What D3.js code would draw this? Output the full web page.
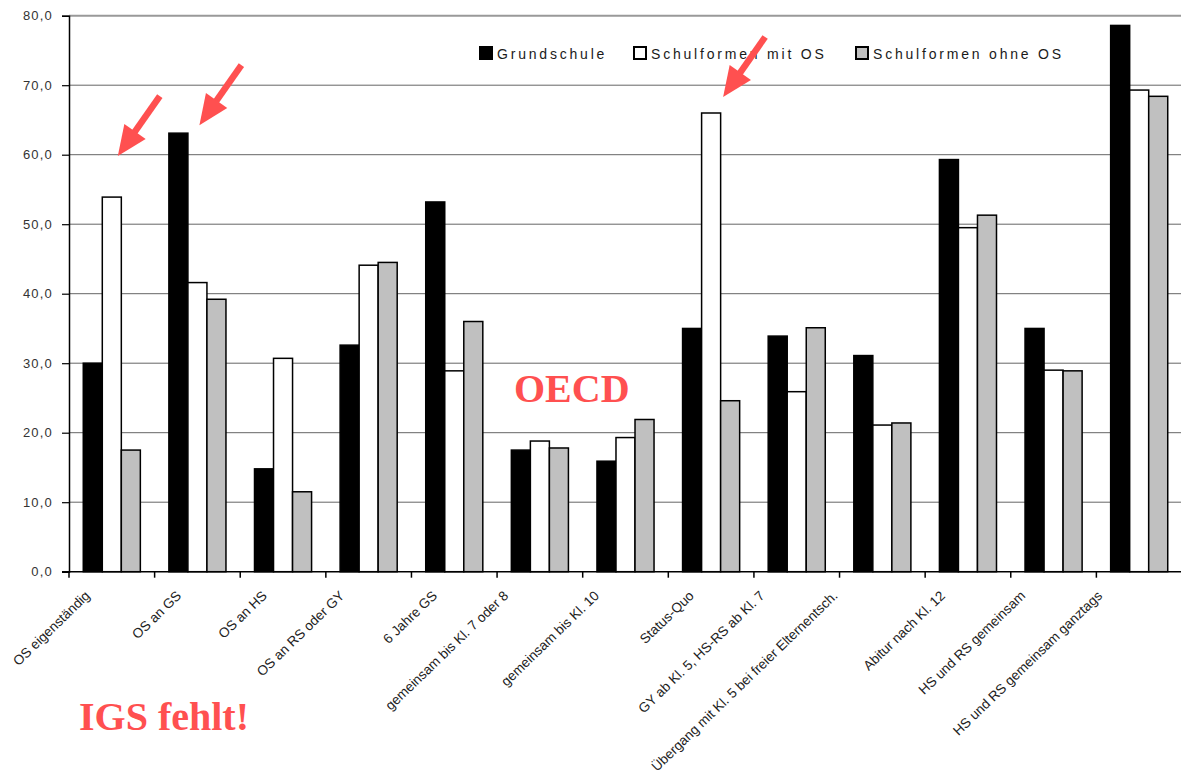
<!DOCTYPE html>
<html>
<head>
<meta charset="utf-8">
<script src="https://cdn.jsdelivr.net/npm/d3@7"></script>
<style>
  body { margin: 0; background: #fff; }
</style>
</head>
<body>
<div class="chart"></div>
<script>
const WIDTH = 1181;
const HEIGHT = 776;
const LEFT = 69;
const RIGHT = 1182;
const TOP = 15.7;
const BOTTOM = 571.7;

const categories = [
  'OS eigenständig',
  'OS an GS',
  'OS an HS',
  'OS an RS oder GY',
  '6 Jahre GS',
  'gemeinsam bis Kl. 7 oder 8',
  'gemeinsam bis Kl. 10',
  'Status-Quo',
  'GY ab Kl. 5, HS-RS ab Kl. 7',
  'Übergang mit Kl. 5 bei freier Elternentsch.',
  'Abitur nach Kl. 12',
  'HS und RS gemeinsam',
  'HS und RS gemeinsam ganztags',
];
const seriesNames = ['Grundschule', 'Schulformen mit OS', 'Schulformen ohne OS'];
const grundschule = [30.0, 63.1, 14.8, 32.6, 53.2, 17.5, 15.9, 35.0, 33.9, 31.1, 59.3, 35.0, 78.6];
const mitOS = [53.9, 41.6, 30.7, 44.1, 28.9, 18.8, 19.3, 66.0, 25.9, 21.1, 49.5, 29.0, 69.3];
const ohneOS = [17.5, 39.2, 11.5, 44.5, 36.0, 17.8, 21.9, 24.6, 35.1, 21.4, 51.3, 28.9, 68.4];
const yTicks = [0, 10, 20, 30, 40, 50, 60, 70, 80];

// arrows point at a bar: category index, series index
const arrows = [
  { cat: 0, series: 1, dx: 6, dy: -41 },
  { cat: 1, series: 0, dx: 21, dy: -8 },
  { cat: 7, series: 1, dx: 12, dy: -16 },
];

const FILLS = ['#000000', '#ffffff', '#c0c0c0'];
const RED = '#ff5050';
const values = [grundschule, mitOS, ohneOS];

const svg = d3.select('.chart')
  .append('svg')
  .attr('width', WIDTH)
  .attr('height', HEIGHT)
  .style('display', 'block');

const x0 = d3.scaleBand().domain(categories).range([LEFT, RIGHT]);
const x1 = d3.scaleBand().domain(seriesNames).range([0, x0.bandwidth()])
  .paddingInner(0)
  .paddingOuter(0.75);
const y = d3.scaleLinear().domain([0, 80]).range([BOTTOM, TOP]);

// gridlines
svg.append('g')
  .selectAll('line')
  .data(yTicks.filter((d) => d > 0))
  .join('line')
  .attr('x1', LEFT)
  .attr('x2', WIDTH)
  .attr('y1', (d) => y(d))
  .attr('y2', (d) => y(d))
  .attr('stroke', (d) => (d === 80 ? '#999' : '#666'))
  .attr('stroke-width', (d) => (d === 80 ? 2 : 1));

// bars
const groups = svg.append('g')
  .selectAll('g')
  .data(categories)
  .join('g')
  .attr('transform', (d) => `translate(${x0(d)},0)`);

groups.selectAll('rect')
  .data((d, i) => seriesNames.map((s, j) => ({ s, j, v: values[j][i] })))
  .join('rect')
  .attr('x', (d) => x1(d.s))
  .attr('y', (d) => y(d.v))
  .attr('width', x1.bandwidth())
  .attr('height', (d) => y(0) - y(d.v))
  .attr('fill', (d) => FILLS[d.j])
  .attr('stroke', '#000')
  .attr('stroke-width', 1.5);

// y axis
const yAxis = svg.append('g')
  .attr('transform', `translate(${LEFT},0)`)
  .call(d3.axisLeft(y)
    .tickValues(yTicks)
    .tickSize(7)
    .tickPadding(9)
    .tickFormat((d) => d.toFixed(1).replace('.', ',')));
yAxis.select('.domain').attr('stroke', '#000').attr('stroke-width', 1.5);
yAxis.selectAll('.tick line').attr('stroke', '#000').attr('stroke-width', 1.2);
yAxis.selectAll('text')
  .attr('fill', '#333')
  .style('font-family', 'Liberation Sans, Arial, sans-serif')
  .style('font-size', '13px')
  .style('letter-spacing', '1.2px');

// x axis, ticks between categories
const xAxis = svg.append('g')
  .attr('transform', `translate(0,${BOTTOM})`);
xAxis.append('line')
  .attr('x1', LEFT - 7)
  .attr('x2', WIDTH)
  .attr('stroke', '#000')
  .attr('stroke-width', 1.5);
xAxis.selectAll('.xtick')
  .data(categories)
  .join('line')
  .attr('class', 'xtick')
  .attr('x1', (d) => x0(d))
  .attr('x2', (d) => x0(d))
  .attr('y1', 0)
  .attr('y2', 6)
  .attr('stroke', '#000')
  .attr('stroke-width', 1.5);

// rotated labels; longer ones sit further left, like the original
const labels = xAxis.selectAll('.xlabel')
  .data(categories)
  .join('text')
  .attr('class', 'xlabel')
  .attr('text-anchor', 'end')
  .attr('fill', '#222')
  .style('font-family', 'Liberation Sans, Arial, sans-serif')
  .style('font-size', '13.6px')
  .text((d) => d);
labels.attr('transform', function (d) {
  const len = this.getComputedTextLength();
  return `translate(${x0(d) + x0.bandwidth() / 2 - 6 - 0.15 * len},25) rotate(-44)`;
});

// legend
const legendX = [480, 634, 856];
const legend = svg.append('g')
  .selectAll('g')
  .data(seriesNames)
  .join('g')
  .attr('transform', (d, i) => `translate(${legendX[i]},47)`);
legend.append('rect')
  .attr('width', 12)
  .attr('height', 12)
  .attr('fill', (d, i) => FILLS[i])
  .attr('stroke', '#000')
  .attr('stroke-width', 2);
legend.append('text')
  .attr('x', 17)
  .attr('y', 11.5)
  .attr('fill', '#1a1a1a')
  .style('font-family', 'Liberation Sans, Arial, sans-serif')
  .style('font-size', '14px')
  .style('letter-spacing', '2.8px')
  .text((d) => d);

// red annotations
const arrowG = svg.append('g');
arrows.forEach((a) => {
  const tipX = x0(categories[a.cat]) + x1(seriesNames[a.series]) + x1.bandwidth() / 2 + a.dx;
  const tipY = y(values[a.series][a.cat]) + a.dy;
  const tailX = tipX + 42;
  const tailY = tipY - 60;
  const len = Math.hypot(tailX - tipX, tailY - tipY);
  const ux = (tipX - tailX) / len;
  const uy = (tipY - tailY) / len;
  const headLen = 30;
  const halfW = 13;
  const bx = tipX - ux * headLen;
  const by = tipY - uy * headLen;
  arrowG.append('line')
    .attr('x1', tailX)
    .attr('y1', tailY)
    .attr('x2', bx + ux * 2)
    .attr('y2', by + uy * 2)
    .attr('stroke', RED)
    .attr('stroke-width', 6.5);
  arrowG.append('path')
    .attr('d', `M${tipX},${tipY}L${bx - uy * halfW},${by + ux * halfW}L${bx + uy * halfW},${by - ux * halfW}Z`)
    .attr('fill', RED);
});

svg.append('text')
  .attr('x', 514)
  .attr('y', 402)
  .attr('fill', RED)
  .style('font-family', 'Liberation Serif, Times New Roman, serif')
  .style('font-weight', 'bold')
  .style('font-size', '40px')
  .text('OECD');

svg.append('text')
  .attr('x', 79)
  .attr('y', 730)
  .attr('fill', RED)
  .style('font-family', 'Liberation Serif, Times New Roman, serif')
  .style('font-weight', 'bold')
  .style('font-size', '40px')
  .text('IGS fehlt!');
</script>
</body>
</html>
